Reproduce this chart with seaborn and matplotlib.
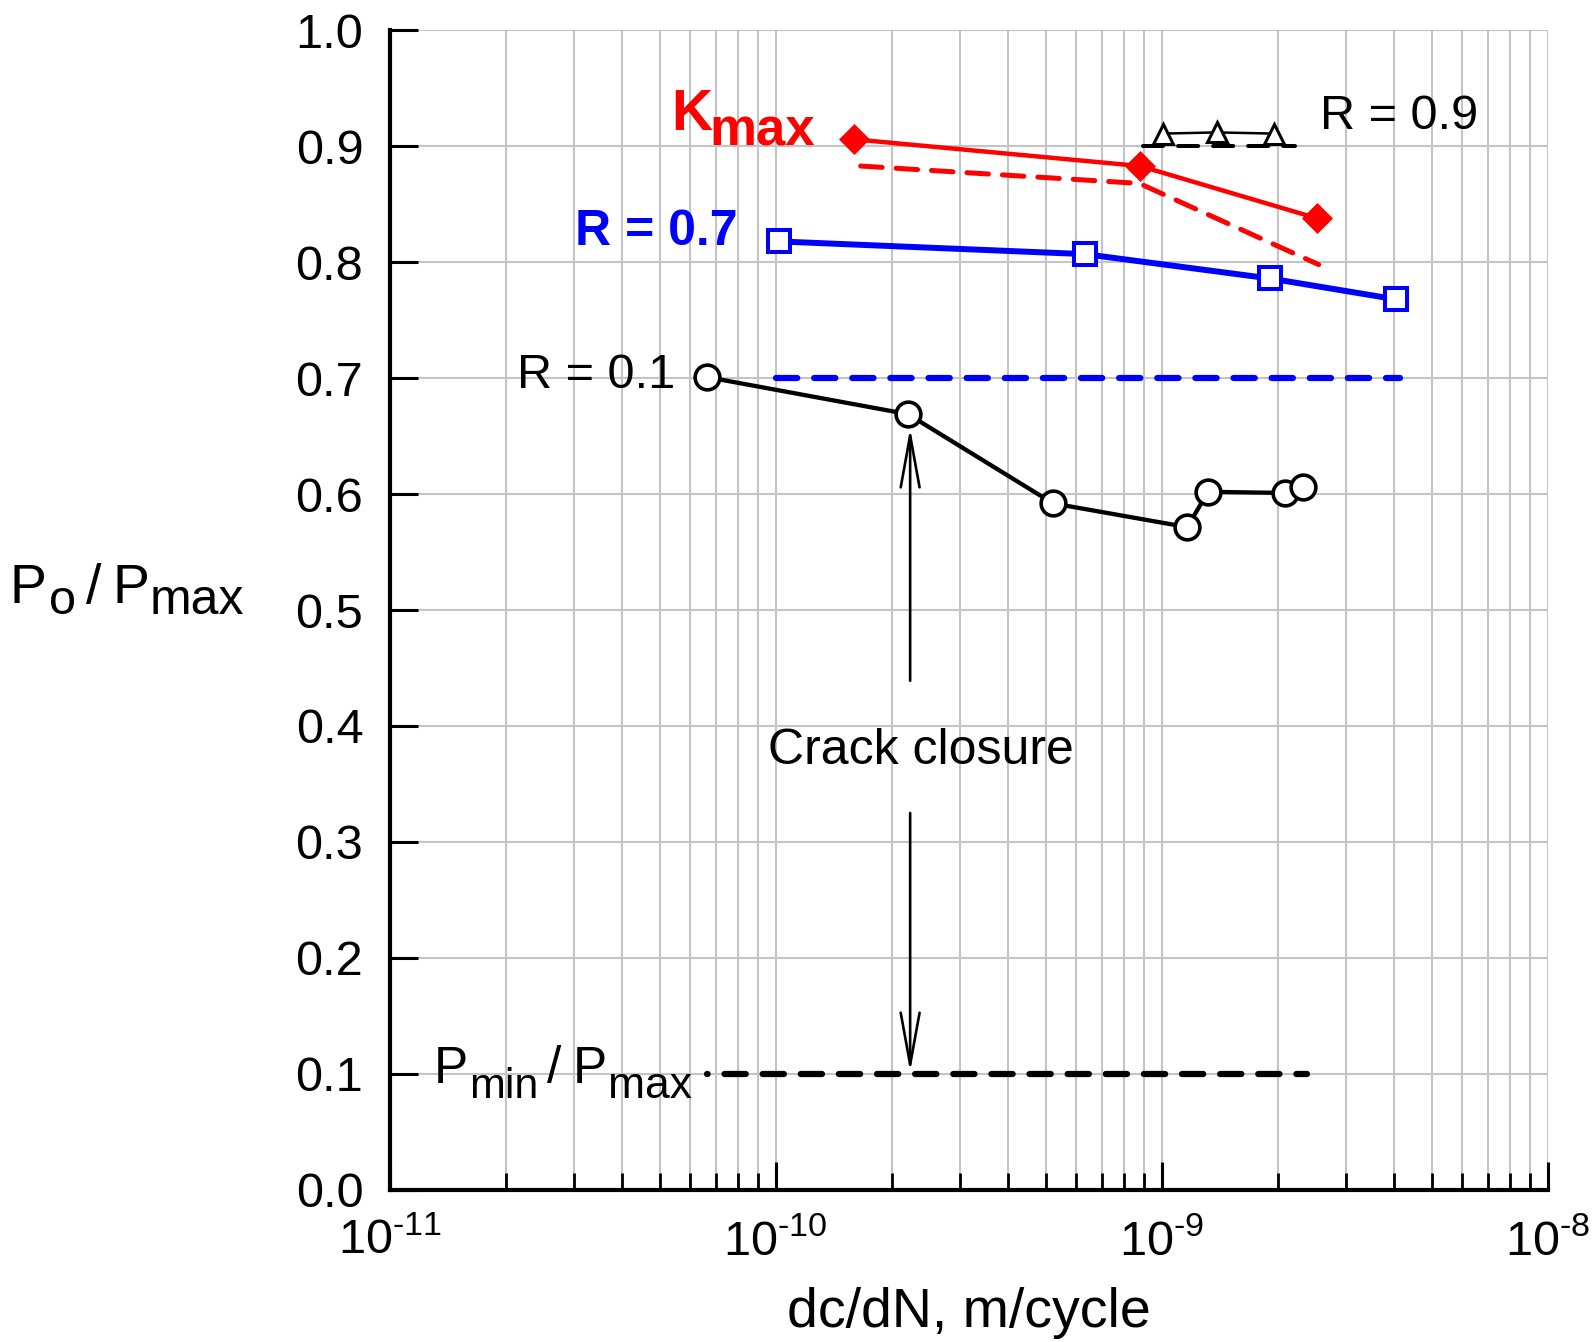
import matplotlib
matplotlib.use("Agg")
import matplotlib.pyplot as plt
import seaborn as sns
import numpy as np
import pandas as pd
from matplotlib.ticker import FixedLocator, FixedFormatter, LogLocator, NullFormatter

# ---------------- data ----------------
kmax_x = [1.60e-10, 8.79e-10, 2.52e-9]
kmax_y = [0.906, 0.883, 0.838]
kmax_dash_x = [1.66e-10, 8.75e-10, 2.55e-9]
kmax_dash_y = [0.883, 0.868, 0.798]

r09_x = [1.01e-9, 1.39e-9, 1.95e-9]
r09_y = [0.911, 0.912, 0.911]
r09_ref_x = [8.96e-10, 2.21e-9]
r09_ref_y = [0.9, 0.9]

r07_x = [1.017e-10, 6.33e-10, 1.91e-9, 4.05e-9]
r07_y = [0.818, 0.807, 0.786, 0.768]
r07_ref_x = [1.0e-10, 4.15e-9]
r07_ref_y = [0.7, 0.7]

r01_x = [6.62e-11, 2.20e-10, 5.23e-10, 1.165e-9, 1.318e-9, 2.085e-9, 2.32e-9]
r01_y = [0.701, 0.669, 0.592, 0.5715, 0.602, 0.601, 0.606]

pmin_x = [6.64e-11, 2.38e-9]
pmin_y = [0.1, 0.1]

x_ticks = [1e-11, 1e-10, 1e-9, 1e-8]
x_tick_labels = [r"$\mathregular{10^{\text{-}11}}$", r"$\mathregular{10^{\text{-}10}}$",
                 r"$\mathregular{10^{\text{-}9}}$", r"$\mathregular{10^{\text{-}8}}$"]
y_ticks = [0.0, 0.1, 0.2, 0.3, 0.4, 0.5, 0.6, 0.7, 0.8, 0.9, 1.0]
y_tick_labels = ["0.0", "0.1", "0.2", "0.3", "0.4", "0.5", "0.6", "0.7", "0.8", "0.9", "1.0"]

# ---------------- style ----------------
sns.set_theme(style="white")
plt.rcParams["font.family"] = ["Liberation Sans", "DejaVu Sans"]
plt.rcParams["mathtext.fontset"] = "custom"
plt.rcParams["mathtext.rm"] = "Liberation Sans"
plt.rcParams["mathtext.it"] = "Liberation Sans:italic"
plt.rcParams["mathtext.bf"] = "Liberation Sans:bold"
plt.rcParams["mathtext.sf"] = "Liberation Sans"
plt.rcParams["text.color"] = "black"
plt.rcParams["axes.labelcolor"] = "black"
plt.rcParams["xtick.color"] = "black"
plt.rcParams["ytick.color"] = "black"

RED = "#ff0000"
BLUE = "#0000ff"
GRID = "#c4c4c4"
PX = 0.72  # points per pixel at dpi 100

fig = plt.figure(figsize=(15.93, 13.42), dpi=100)
ax = fig.add_axes([389.7 / 1593, (1342 - 1189.7) / 1342, 1158 / 1593, 1159.3 / 1342])
ax.set_xscale("log")
ax.set_xlim(1e-11, 1e-8)
ax.set_ylim(0, 1.0)


def chain_text(ax, x, y, coords, pieces, color="black", weight="normal"):
    """Write text pieces one after another; pieces = (text, size, gap_px, drop_px)."""
    prev = None
    for txt, size, gap, drop in pieces:
        if prev is None:
            prev = ax.annotate(txt, xy=(x, y), xycoords=coords,
                               xytext=(0, -drop * PX), textcoords="offset points",
                               fontsize=size, ha="left", va="baseline", color=color,
                               fontweight=weight, annotation_clip=False)
        else:
            prev = ax.annotate(txt, xy=(1, y), xycoords=(prev, coords),
                               xytext=(gap * PX, -drop * PX), textcoords="offset points",
                               fontsize=size, ha="left", va="baseline", color=color,
                               fontweight=weight, annotation_clip=False)
    return prev


# ---------------- series ----------------
sns.lineplot(x=r07_ref_x, y=r07_ref_y, ax=ax, color=BLUE, lw=4.5,
             linestyle=(0, (3.4, 2.7)), dash_capstyle="round", legend=False, sort=False)
sns.lineplot(x=pmin_x, y=pmin_y, ax=ax, color="black", lw=4.5,
             linestyle=(3.3, (3.4, 2.7)), dash_capstyle="round", legend=False, sort=False)
sns.lineplot(x=kmax_dash_x, y=kmax_dash_y, ax=ax, color=RED, lw=3.6,
             linestyle=(0, (4.3, 2.8)), dash_capstyle="round", legend=False, sort=False)
sns.lineplot(x=r09_ref_x, y=r09_ref_y, ax=ax, color="black", lw=2.9,
             linestyle=(0, (5.0, 3.7)), dash_capstyle="round", legend=False, sort=False)

sns.lineplot(x=kmax_x, y=kmax_y, ax=ax, color=RED, lw=3.2, marker="D", ms=15.5,
             mfc=RED, mec=RED, mew=0.5, legend=False, sort=False)
sns.lineplot(x=r09_x, y=r09_y, ax=ax, color="black", lw=1.8, marker="^", ms=15,
             mfc="white", mec="black", mew=2.2, legend=False, sort=False)
sns.lineplot(x=r07_x, y=r07_y, ax=ax, color=BLUE, lw=4.3, marker="s", ms=15.2,
             mfc="white", mec=BLUE, mew=2.9, legend=False, sort=False)
sns.lineplot(x=r01_x, y=r01_y, ax=ax, color="black", lw=3.1, marker="o", ms=17.8,
             mfc="white", mec="black", mew=2.6, legend=False, sort=False)

# ---------------- arrows & annotations ----------------
arrow_style = "->,head_length=1.87,head_width=0.34"
ax.annotate("", xy=(2.23e-10, 0.657), xytext=(2.23e-10, 0.439),
            arrowprops=dict(arrowstyle=arrow_style, lw=1.9, color="black",
                            shrinkA=0, shrinkB=0, mutation_scale=20))
ax.annotate("", xy=(2.23e-10, 0.1015), xytext=(2.23e-10, 0.325),
            arrowprops=dict(arrowstyle=arrow_style, lw=1.9, color="black",
                            shrinkA=0, shrinkB=0, mutation_scale=20))
ax.text(2.38e-10, 0.367, "Crack closure", fontsize=36, ha="center", va="baseline")

chain_text(ax, 5.35e-11, 0.914, "data",
           [("K", 41, 0, 0), ("max", 38, -3, 15)], color=RED, weight="bold")
ax.text(3.02e-11, 0.815, "R = 0.7", fontsize=36, fontweight="bold", color=BLUE,
        ha="left", va="baseline")
ax.text(5.49e-11, 0.6917, "R = 0.1", fontsize=35, ha="right", va="baseline")
ax.text(2.57e-9, 0.915, "R = 0.9", fontsize=35, ha="left", va="baseline")
chain_text(ax, 1.30e-11, 0.092, "data",
           [("P", 37, 0, 0), ("min", 31, 1, 15), ("/", 37, 9, 0),
            ("P", 37, 11, 0), ("max", 32, 1, 15)])

# y-axis label built the same way (P_o / P_max)
chain_text(ax, (10 - 389.7) / 1158, (1189.7 - 603) / 1159.3, "axes fraction",
           [("P", 40, 0, 0), ("o", 35, 2, 11), ("/", 40, 10, 0),
            ("P", 40, 11, 0), ("max", 36, 1, 11)])

# ---------------- axes styling ----------------
ax.xaxis.set_major_locator(FixedLocator(x_ticks))
ax.xaxis.set_major_formatter(FixedFormatter(x_tick_labels))
ax.xaxis.set_minor_locator(LogLocator(base=10, subs=np.arange(2, 10)))
ax.xaxis.set_minor_formatter(NullFormatter())
ax.yaxis.set_major_locator(FixedLocator(y_ticks))
ax.yaxis.set_major_formatter(FixedFormatter(y_tick_labels))

ax.set_axisbelow(True)
ax.grid(True, which="both", axis="x", color=GRID, lw=1.5)
ax.grid(True, which="major", axis="y", color=GRID, lw=1.5)

for side in ["top", "right"]:
    ax.spines[side].set_visible(False)
for side in ["left", "bottom"]:
    ax.spines[side].set_color("black")
    ax.spines[side].set_linewidth(3)

ax.tick_params(axis="both", which="major", direction="in", length=20, width=2.2,
               color="black", labelcolor="black", bottom=True, left=True,
               top=False, right=False)
ax.tick_params(axis="y", which="major", labelsize=35, pad=19)
ax.tick_params(axis="x", which="major", labelsize=35, pad=21)
ax.tick_params(axis="x", which="minor", direction="in", length=12, width=2.0,
               color="black", bottom=True, top=False)

ax.set_xlabel("dc/dN, m/cycle", fontsize=40, va="baseline", ha="center")
ax.xaxis.set_label_coords(0.5, (1189.7 - 1327) / 1159.3)
ax.set_ylabel("")

fig.savefig("out.png", dpi=100)
